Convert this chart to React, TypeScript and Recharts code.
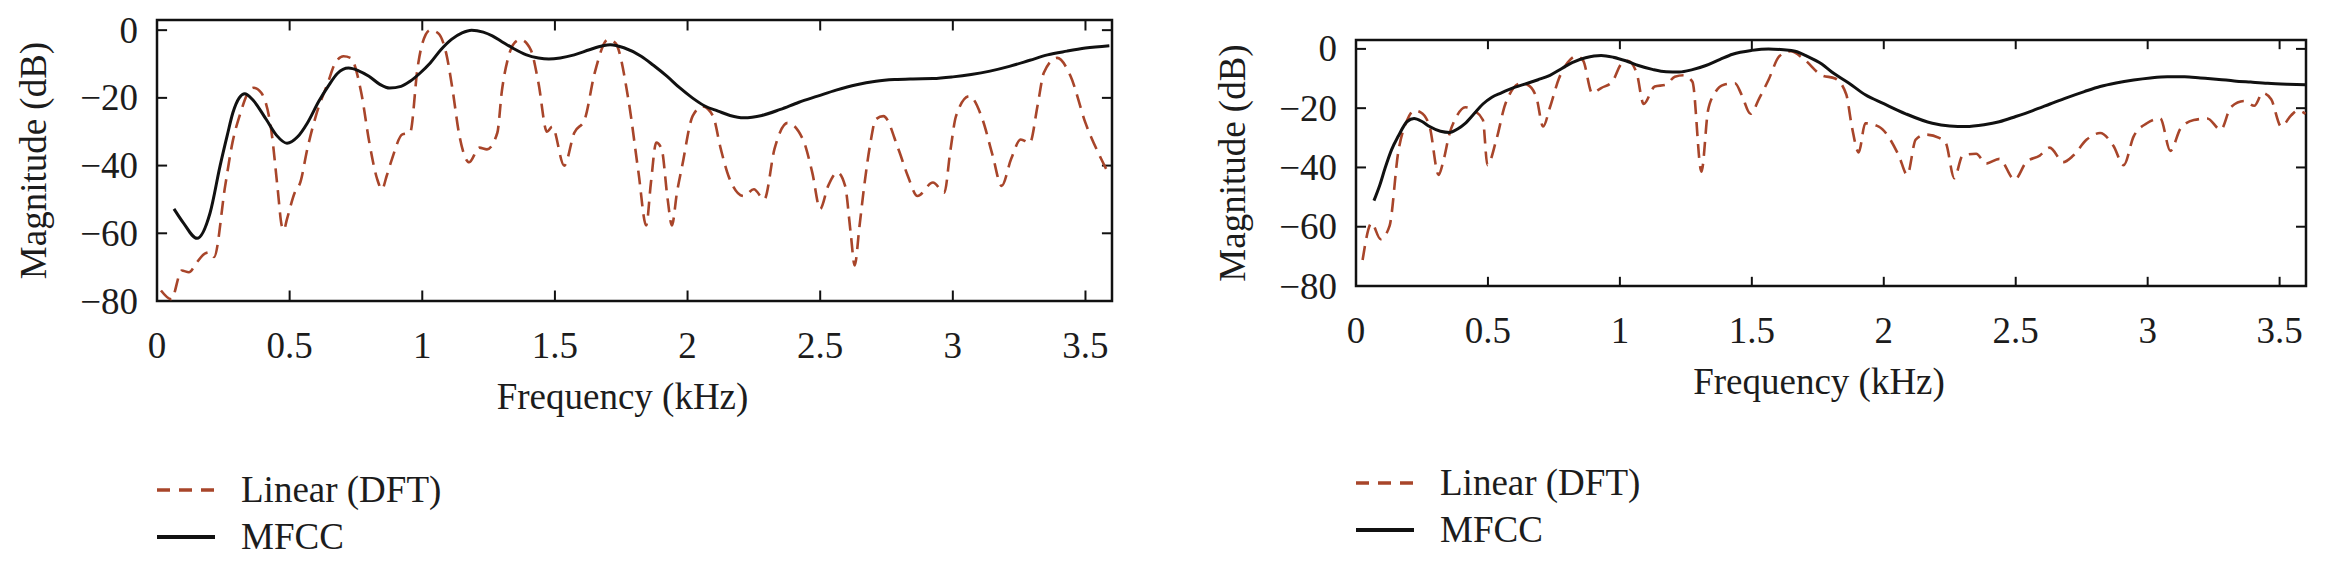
import React from 'react';
import { LineChart, Line, XAxis, YAxis, Legend, ReferenceArea, ReferenceLine } from 'recharts';

const xTicks = [0, 0.5, 1, 1.5, 2, 2.5, 3, 3.5];
const yTicks = [-80, -60, -40, -20, 0];
const xDomain = [0, 3.6];
const yDomain = [-80, 3];

const seriesNames = ['Linear (DFT)', 'MFCC'];

// [frequency kHz, magnitude dB]
const leftDft: number[][] = [[0.015,-76.9],[0.054,-79.5],[0.093,-71],[0.12,-71.5],[0.151,-68.5],[0.18,-66],[0.2,-65.6],[0.215,-67],[0.257,-46],[0.285,-33],[0.315,-24.4],[0.34,-19],[0.364,-17],[0.393,-18.5],[0.432,-30.3],[0.455,-47],[0.47,-57.7],[0.478,-59],[0.49,-55.8],[0.519,-48],[0.54,-45],[0.567,-35],[0.6,-25],[0.644,-15.6],[0.67,-10],[0.703,-7.7],[0.73,-8.2],[0.77,-18.5],[0.8,-33],[0.83,-44],[0.848,-47],[0.866,-43],[0.886,-38],[0.925,-30.8],[0.954,-30.3],[0.983,-10.7],[1.0,-4],[1.03,0],[1.06,-0.9],[1.09,-6.8],[1.115,-18],[1.138,-30.3],[1.177,-39],[1.215,-34.7],[1.244,-35.2],[1.283,-30.3],[1.3,-18],[1.322,-8.7],[1.345,-4],[1.37,-2.8],[1.409,-5.8],[1.438,-15.6],[1.47,-30],[1.49,-28.5],[1.535,-40],[1.573,-30.3],[1.612,-26.4],[1.65,-12.6],[1.7,-2.8],[1.728,-3.8],[1.777,-20.5],[1.815,-42],[1.844,-57.7],[1.862,-45],[1.882,-33.2],[1.902,-35],[1.925,-50],[1.941,-57.7],[1.96,-48],[1.98,-40],[2.019,-25.4],[2.057,-22.5],[2.096,-25.4],[2.125,-35],[2.154,-43],[2.212,-49],[2.25,-47],[2.289,-50],[2.328,-35],[2.377,-27.4],[2.435,-32.3],[2.47,-42],[2.5,-52.8],[2.53,-46],[2.565,-42],[2.594,-46],[2.615,-60],[2.63,-69.5],[2.648,-58],[2.666,-46],[2.69,-33],[2.709,-26.4],[2.738,-25.4],[2.795,-35.2],[2.83,-43],[2.867,-49],[2.925,-45],[2.968,-48],[2.99,-36],[3.012,-25.4],[3.062,-19.5],[3.112,-26.4],[3.15,-37],[3.184,-46],[3.22,-38],[3.256,-32.3],[3.29,-33.3],[3.32,-22],[3.343,-12.6],[3.393,-8.2],[3.444,-13.6],[3.5,-27.4],[3.559,-38],[3.591,-43]];

const leftMfcc: number[][] = [[0.064,-52.8],[0.1,-57],[0.151,-61.5],[0.2,-54],[0.238,-40],[0.265,-31],[0.286,-24.4],[0.31,-20],[0.331,-18.8],[0.36,-20.5],[0.412,-26.4],[0.45,-31],[0.49,-33.4],[0.53,-31.5],[0.567,-27.4],[0.61,-21],[0.645,-16.6],[0.68,-12.8],[0.722,-11.2],[0.76,-12],[0.799,-13.6],[0.84,-16],[0.877,-17.1],[0.92,-16.6],[0.954,-15.1],[0.99,-12.8],[1.03,-9.7],[1.07,-5.8],[1.109,-2.8],[1.15,-0.8],[1.186,0],[1.23,-0.6],[1.264,-1.7],[1.3,-3.4],[1.341,-5.3],[1.39,-7.2],[1.438,-8.2],[1.477,-8.5],[1.52,-8.2],[1.573,-7.3],[1.63,-5.8],[1.68,-4.6],[1.709,-4.3],[1.76,-5.2],[1.825,-7.7],[1.87,-10.3],[1.922,-13.6],[1.97,-17],[2.018,-20],[2.065,-22.4],[2.115,-23.9],[2.16,-25.2],[2.212,-25.9],[2.28,-25.2],[2.35,-23.4],[2.42,-21.3],[2.49,-19.5],[2.56,-17.7],[2.637,-16.1],[2.71,-15.1],[2.78,-14.6],[2.85,-14.4],[2.925,-14.3],[3.0,-13.8],[3.069,-13.1],[3.14,-12.1],[3.213,-10.7],[3.29,-8.9],[3.357,-7.3],[3.43,-6.2],[3.5,-5.3],[3.59,-4.6]];

const rightDft: number[][] = [[0.025,-71.2],[0.059,-58.8],[0.093,-64.2],[0.127,-59.8],[0.16,-34.9],[0.194,-24],[0.22,-20.8],[0.245,-21.4],[0.279,-26.2],[0.313,-42.5],[0.33,-38.2],[0.355,-28.4],[0.38,-23],[0.414,-19.7],[0.448,-20.8],[0.481,-24],[0.498,-39.2],[0.532,-30.6],[0.566,-18.6],[0.625,-11.6],[0.65,-12.1],[0.684,-16.5],[0.709,-26.2],[0.735,-19.7],[0.769,-10],[0.802,-4.6],[0.836,-2.4],[0.861,-4],[0.895,-14.9],[0.929,-13.2],[0.971,-11.1],[1.005,-5.1],[1.03,-4],[1.064,-8.3],[1.09,-18.6],[1.132,-12.7],[1.174,-12.1],[1.208,-9.4],[1.242,-8.9],[1.275,-11.1],[1.309,-41.4],[1.334,-20.8],[1.36,-14.9],[1.394,-12.1],[1.436,-11.6],[1.461,-15.4],[1.495,-21.9],[1.529,-16.5],[1.563,-10.5],[1.605,-2.4],[1.647,-0.8],[1.698,-3.5],[1.765,-8.9],[1.816,-10],[1.858,-15.4],[1.879,-26.2],[1.905,-34.9],[1.93,-25.1],[1.981,-26.2],[2.057,-36],[2.089,-42.5],[2.121,-30.6],[2.159,-28.9],[2.21,-30],[2.235,-31.7],[2.267,-43.6],[2.299,-36],[2.35,-35.4],[2.388,-38.7],[2.438,-37.1],[2.496,-44.1],[2.54,-38.2],[2.591,-36],[2.629,-33.3],[2.68,-38.2],[2.718,-36],[2.769,-30.6],[2.82,-28.4],[2.87,-32.7],[2.909,-39.2],[2.947,-29.5],[2.997,-25.1],[3.048,-23.5],[3.086,-34.4],[3.125,-26.8],[3.175,-24],[3.226,-23.5],[3.277,-27.3],[3.315,-19.7],[3.366,-17.6],[3.404,-19.2],[3.436,-14.9],[3.468,-17],[3.506,-26.2],[3.544,-22.4],[3.569,-20.8],[3.598,-21.9]];

const rightMfcc: number[][] = [[0.068,-51.2],[0.09,-46],[0.11,-40.3],[0.135,-34],[0.16,-29.5],[0.194,-24.5],[0.22,-23.5],[0.25,-24.5],[0.279,-26.2],[0.32,-27.8],[0.355,-28.2],[0.385,-27],[0.414,-25.1],[0.448,-21.8],[0.481,-18.6],[0.515,-16.3],[0.549,-14.9],[0.6,-13],[0.65,-11.6],[0.69,-10.4],[0.735,-8.9],[0.78,-6.6],[0.819,-4.6],[0.87,-3],[0.929,-2.2],[0.975,-2.8],[1.022,-4],[1.07,-5.6],[1.123,-6.9],[1.175,-7.7],[1.225,-7.8],[1.275,-7],[1.326,-5.6],[1.38,-3.5],[1.427,-1.8],[1.5,-0.5],[1.563,0],[1.62,-0.3],[1.664,-0.8],[1.71,-2.5],[1.765,-5.1],[1.803,-7.8],[1.867,-11.5],[1.93,-15.5],[2.0,-18.5],[2.083,-21.9],[2.184,-25.1],[2.25,-26],[2.311,-26.2],[2.38,-25.6],[2.438,-24.6],[2.5,-22.8],[2.565,-20.8],[2.63,-18.6],[2.692,-16.5],[2.76,-14.4],[2.82,-12.7],[2.88,-11.5],[2.947,-10.5],[3.01,-9.8],[3.074,-9.4],[3.14,-9.4],[3.2,-9.8],[3.27,-10.3],[3.328,-10.8],[3.39,-11.2],[3.455,-11.6],[3.53,-11.9],[3.598,-12.1]];

const FONT = "'Liberation Serif', 'Times New Roman', serif";
const FS = 37;
const TEXT = '#1c1c1c';
const AXIS = '#111';
const DFT_COLOR = '#a8452a';
const MFCC_COLOR = '#111111';
// inward tick lengths, in data units (about 10 px)
const TICK_DX = 0.038;
const TICK_DY = 3.1;

const toPoints = (arr: number[][]) => arr.map(([x, y]) => ({ x, y }));

const fmtNum = (v: number) => (v < 0 ? '\u2212' + Math.abs(v) : String(v));

const BottomTick = (props: any) => {
  const { x, y, payload } = props;
  return (
    <text x={x} y={y + 57} textAnchor="middle" fontSize={FS} fontFamily={FONT} fill={TEXT}>
      {fmtNum(payload.value)}
    </text>
  );
};

const LeftTick = (props: any) => {
  const { x, y, payload } = props;
  return (
    <text x={x - 19} y={y} dy="0.34em" textAnchor="end" fontSize={FS} fontFamily={FONT} fill={TEXT}>
      {fmtNum(payload.value)}
    </text>
  );
};

const XLabel = (props: any) => {
  const vb = props.viewBox || {};
  return (
    <text x={vb.x + vb.width / 2 - 12} y={vb.y + 108} textAnchor="middle" fontSize={FS} fontFamily={FONT} fill={TEXT}>
      Frequency (kHz)
    </text>
  );
};

const YLabel = (props: any) => {
  const vb = props.viewBox || {};
  const cx = vb.x + vb.width - 124;
  const cy = vb.y + vb.height / 2;
  return (
    <text
      x={cx}
      y={cy}
      dy="0.34em"
      transform={`rotate(-90, ${cx}, ${cy})`}
      textAnchor="middle"
      fontSize={FS}
      fontFamily={FONT}
      fill={TEXT}
    >
      Magnitude (dB)
    </text>
  );
};

const LegendContent = (props: any) => {
  const items = (props.payload || []).filter((it: any) => seriesNames.indexOf(it.value) >= 0);
  return (
    <div style={{ fontFamily: FONT, fontSize: FS, color: TEXT }}>
      {items.map((it: any, i: number) => {
        const dash = it.payload && it.payload.strokeDasharray;
        return (
          <div key={i} style={{ display: 'flex', alignItems: 'center', height: 47, whiteSpace: 'nowrap' }}>
            <svg width={58} height={10} style={{ display: 'block' }}>
              <line
                x1={0}
                x2={58}
                y1={5}
                y2={5}
                stroke={it.color}
                strokeWidth={dash ? 3.5 : 4}
                strokeDasharray={dash ? '13 9' : undefined}
              />
            </svg>
            <span style={{ marginLeft: 26, lineHeight: '47px' }}>{it.value}</span>
          </div>
        );
      })}
    </div>
  );
};

type PanelProps = {
  left: number;
  margin: { top: number; right: number; bottom: number; left: number };
  dft: number[][];
  mfcc: number[][];
  legendLeft: number;
  legendTop: number;
};

const tickSegments = () => {
  const segs: any[] = [];
  xTicks.forEach((t) => {
    segs.push([{ x: t, y: yDomain[0] }, { x: t, y: yDomain[0] + TICK_DY }]);
    segs.push([{ x: t, y: yDomain[1] }, { x: t, y: yDomain[1] - TICK_DY }]);
  });
  yTicks.forEach((t) => {
    segs.push([{ x: xDomain[0], y: t }, { x: xDomain[0] + TICK_DX, y: t }]);
    segs.push([{ x: xDomain[1], y: t }, { x: xDomain[1] - TICK_DX, y: t }]);
  });
  return segs;
};

const Panel = ({ left, margin, dft, mfcc, legendLeft, legendTop }: PanelProps) => (
  <div style={{ position: 'absolute', left, top: 0 }}>
    <LineChart width={1150} height={569} margin={margin}>
      <XAxis
        dataKey="x"
        type="number"
        domain={xDomain}
        ticks={xTicks}
        allowDataOverflow
        orientation="bottom"
        height={60}
        tickSize={0}
        tickMargin={0}
        tickLine={false}
        axisLine={false}
        tick={<BottomTick />}
        interval={0}
        label={<XLabel />}
      />
      <YAxis
        type="number"
        domain={yDomain}
        ticks={yTicks}
        allowDataOverflow
        orientation="left"
        width={157}
        tickSize={0}
        tickMargin={0}
        tickLine={false}
        axisLine={false}
        tick={<LeftTick />}
        interval={0}
        label={<YLabel />}
      />
      <ReferenceArea
        x1={xDomain[0]}
        x2={xDomain[1]}
        y1={yDomain[0]}
        y2={yDomain[1]}
        fill="none"
        fillOpacity={0}
        stroke={AXIS}
        strokeWidth={2.5}
        ifOverflow="visible"
      />
      {tickSegments().map((s, i) => (
        <ReferenceLine key={i} segment={s} stroke={AXIS} strokeWidth={2} ifOverflow="visible" />
      ))}
      <Line
        data={toPoints(dft)}
        dataKey="y"
        name={seriesNames[0]}
        type="monotone"
        stroke={DFT_COLOR}
        strokeWidth={2.6}
        strokeDasharray="14 8"
        dot={false}
        activeDot={false}
        isAnimationActive={false}
      />
      <Line
        data={toPoints(mfcc)}
        dataKey="y"
        name={seriesNames[1]}
        type="monotone"
        stroke={MFCC_COLOR}
        strokeWidth={3}
        dot={false}
        activeDot={false}
        isAnimationActive={false}
      />
      <Legend
        layout="horizontal"
        align="center"
        verticalAlign="middle"
        content={<LegendContent />}
        wrapperStyle={{ position: 'absolute', left: legendLeft, top: legendTop, width: 'auto', height: 'auto' }}
      />
    </LineChart>
  </div>
);

export default function App() {
  return (
    <div style={{ position: 'absolute', left: 0, top: 0, width: 2325, height: 569, background: '#fff', overflow: 'hidden' }}>
      <Panel
        left={0}
        margin={{ top: 20, right: 38, bottom: 208, left: 0 }}
        dft={leftDft}
        mfcc={leftMfcc}
        legendLeft={157}
        legendTop={466}
      />
      <Panel
        left={1175}
        margin={{ top: 40, right: 19, bottom: 223, left: 24 }}
        dft={rightDft}
        mfcc={rightMfcc}
        legendLeft={181}
        legendTop={459}
      />
    </div>
  );
}
